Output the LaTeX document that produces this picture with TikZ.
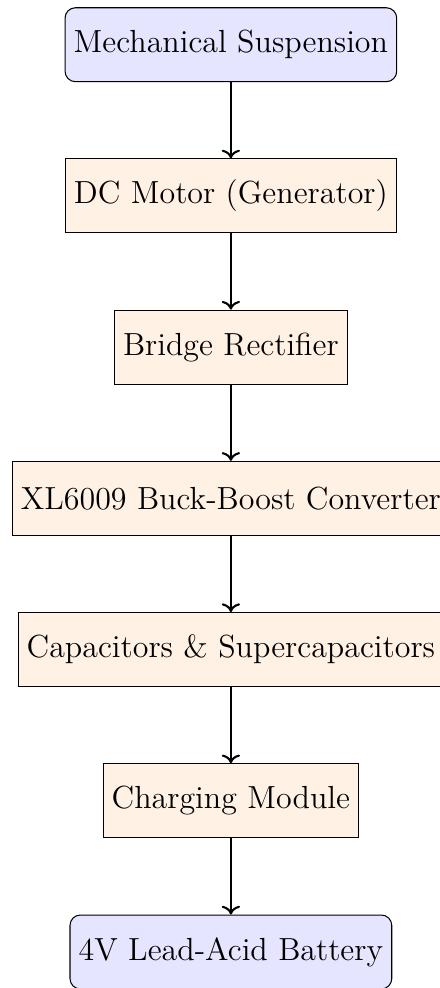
\documentclass[tikz,border=0pt]{standalone}
\usetikzlibrary{positioning,arrows.meta}
\tikzset{
  stage/.style = {draw, fill=orange!10, minimum height=1cm, font=\fontsize{12.3}{15}\selectfont, anchor=center},
  endstage/.style = {stage, fill=blue!10, rounded corners},
  flow/.style = {->, thick}
}
\begin{document}
\begin{tikzpicture}[node distance=1.03cm]
  \useasboundingbox (-88.8pt,17.2pt) rectangle (80.4pt,-362.8pt);
  \node[endstage] (susp) {Mechanical Suspension};
  \node[stage, below=of susp] (motor) {DC Motor (Generator)};
  \node[stage, below=of motor] (bridge) {Bridge Rectifier};
  \node[stage, below=of bridge] (conv) {XL6009 Buck-Boost Converter};
  \node[stage, below=of conv] (caps) {Capacitors \& Supercapacitors};
  \node[stage, below=of caps] (charge) {Charging Module};
  \node[endstage, below=of charge] (batt) {4V Lead-Acid Battery};
  % energy flow
  \foreach \a/\b in {susp/motor,motor/bridge,bridge/conv,conv/caps,caps/charge,charge/batt}{
    \draw[flow] (\a) -- (\b);
  }
\end{tikzpicture}
\end{document}
